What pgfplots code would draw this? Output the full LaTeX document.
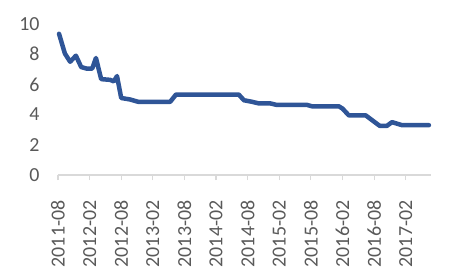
\documentclass[border=0pt]{standalone}
\usepackage{pgfplots}
\pgfplotsset{compat=1.18}
\usepackage{fontspec}
\setmainfont{Carlito}
\definecolor{linec}{HTML}{2F5597}
\definecolor{txt}{HTML}{595959}
\definecolor{axc}{HTML}{D9D9D9}
\begin{document}
\begin{tikzpicture}
\useasboundingbox (-58bp,-99bp) rectangle (391bp,175bp);
\begin{axis}[
  at={(0,0)}, anchor=south west,
  scale only axis, width=373bp, height=151bp,
  xmin=0, xmax=70.8, ymin=0, ymax=10,
  axis x line*=bottom,
  axis y line*=left,
  y axis line style={draw=none},
  ytick style={draw=none},
  x axis line style={draw=axc, line width=1.2bp, -},
  xtick={0,6,12,18,24,30,36,42,48,54,60,66},
  xticklabels={2011-08,2012-02,2012-08,2013-02,2013-08,2014-02,2014-08,2015-02,2015-08,2016-02,2016-08,2017-02},
  xtick style={draw=axc, line width=1.2bp},
  tick align=outside, major tick length=5bp,
  xticklabel style={yshift=-17bp, rotate=90, anchor=east, text=txt, font=\fontsize{20}{24}\selectfont},
  ytick={0,2,4,6,8,10},
  yticklabel style={xshift=-10bp, text=txt, font=\fontsize{20}{24}\selectfont},
  /pgf/number format/assume math mode=true,
  clip=false,
]
\addplot[linec, line width=4.5bp, line join=round, line cap=round] coordinates {
(0.2,9.35) (1.3,8.05) (2.3,7.5) (3.4,7.9) (4.4,7.15) (5.4,7.05) (6.5,7.05) (7.2,7.75)
(8.2,6.35) (9.9,6.3) (10.6,6.2) (11.2,6.55) (12,5.1) (13.7,5.0) (15.2,4.85) (21.3,4.85)
(22.4,5.33) (34.3,5.33) (35.3,4.95) (36.8,4.85) (38,4.75) (40.2,4.75) (41.4,4.65)
(47.2,4.65) (48.2,4.55) (53.3,4.55) (54,4.4) (55.2,3.95) (58.4,3.95) (60.5,3.4)
(61.1,3.25) (62.4,3.25) (63.4,3.5) (65.3,3.3) (70.4,3.3)
};
\end{axis}
\end{tikzpicture}
\end{document}
